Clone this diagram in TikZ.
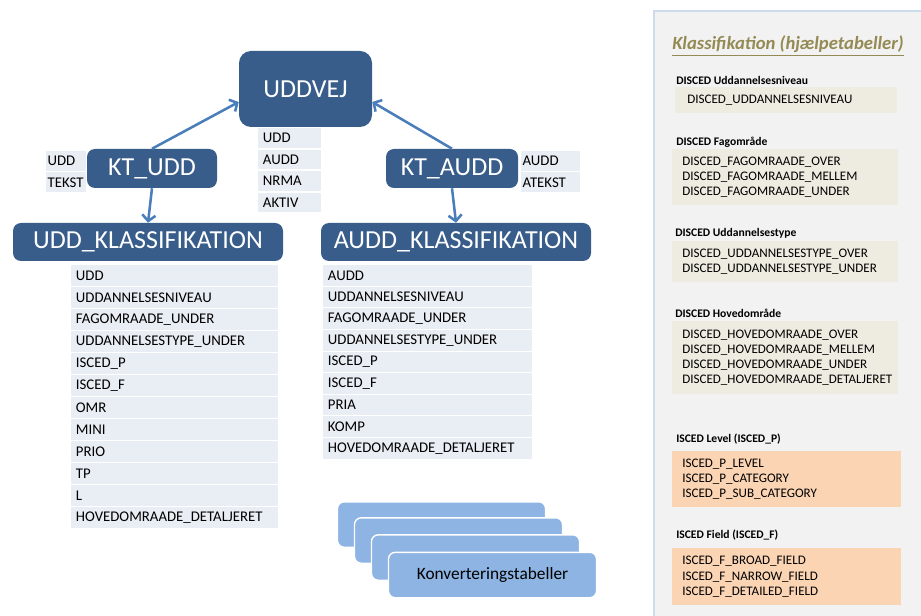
\documentclass[tikz,border=0pt]{standalone}
\usepackage{fontspec}
\setmainfont{Carlito}
\usetikzlibrary{arrows.meta}

\definecolor{tblblue}{RGB}{56,93,138}
\definecolor{cellgray}{RGB}{233,237,244}
\definecolor{arrowblue}{RGB}{74,126,187}
\definecolor{convblue}{RGB}{141,180,226}
\definecolor{panelgray}{RGB}{242,242,242}
\definecolor{panelline}{RGB}{205,219,238}
\definecolor{titleolive}{RGB}{148,138,84}
\definecolor{discedbeige}{RGB}{238,236,225}
\definecolor{iscedpeach}{RGB}{251,212,180}

\tikzset{
  tbl/.style={fill=tblblue, text=white, rounded corners=6pt, inner sep=0pt,
    font=\fontsize{19.5}{22}\selectfont},
  fld/.style={fill=cellgray, anchor=north west, inner xsep=3.5pt, inner ysep=0pt,
    text width=#1, align=left, minimum height=15.4pt, font=\fontsize{11.1}{13}\selectfont},
  rel/.style={draw=arrowblue, line width=1.9pt, -{Straight Barb[length=4.5pt,width=10pt]}},
  conv/.style={fill=convblue, draw=white, line width=1pt, rounded corners=5pt,
    minimum width=156pt, minimum height=34pt},
  grp/.style={anchor=west, inner sep=0pt, font=\bfseries\fontsize{8.7}{10}\selectfont},
  hlp/.style={anchor=north west, inner xsep=7.5pt, inner ysep=0pt, align=left,
    font=\fontsize{9.8}{11.4}\selectfont}
}

\begin{document}
\begin{tikzpicture}[x=0.75pt, y=-0.75pt]
  \useasboundingbox (0,0) rectangle (921,616);

  % tables
  \node[tbl, rounded corners=9pt, minimum width=99.75pt, minimum height=57pt] (uddvej) at (305.5,89) {UDDVEJ};
  \node[tbl, minimum width=97.5pt, minimum height=29.25pt] (ktudd) at (152,168.5) {KT\_UDD};
  \node[tbl, minimum width=99pt, minimum height=29.25pt] (ktaudd) at (452,168.5) {KT\_AUDD};
  \node[tbl, minimum width=202.5pt, minimum height=28.5pt] (uddklass) at (148,242) {UDD\_KLASSIFIKATION};
  \node[tbl, minimum width=202.5pt, minimum height=28.5pt] (auddklass) at (456,242) {AUDD\_KLASSIFIKATION};

  % fields
  \foreach \f [count=\i from 0] in {UDD,AUDD,NRMA,AKTIV}
    \node[fld=40.25pt, minimum height=14.6pt] (vej\i) at (258,128+21.5*\i) {\f};
  \foreach \f [count=\i from 0] in {UDD,TEKST}
    \node[fld=28pt, inner xsep=1pt, minimum height=15pt] (ktu\i) at (46,151+21*\i) {\f};
  \foreach \f [count=\i from 0] in {AUDD,ATEKST}
    \node[fld=42.25pt, inner xsep=1pt, minimum height=15pt] (kta\i) at (521,151+21*\i) {\f};
  \foreach \f [count=\i from 0] in {UDD,UDDANNELSESNIVEAU,FAGOMRAADE\_UNDER,UDDANNELSESTYPE\_UNDER,
      ISCED\_P,ISCED\_F,OMR,MINI,PRIO,TP,L,HOVEDOMRAADE\_DETALJERET}
    \node[fld=148.25pt] (uk\i) at (71,265+22*\i) {\f};
  \foreach \f [count=\i from 0] in {AUDD,UDDANNELSESNIVEAU,FAGOMRAADE\_UNDER,UDDANNELSESTYPE\_UNDER,
      ISCED\_P,ISCED\_F,PRIA,KOMP,HOVEDOMRAADE\_DETALJERET}
    \node[fld=149.75pt] (ak\i) at (323,265+21.6*\i) {\f};

  % relations
  \draw[rel] (ktudd.north) -- (uddvej.191);
  \draw[rel] (ktudd.south) -- (uddklass.north);
  \draw[rel] (ktaudd.north) -- (uddvej.349);
  \draw[rel] (ktaudd.south) -- (auddklass.north);

  % conversion tables
  \foreach \k/\cx/\cy in {1/441.5/524.5, 2/458.5/540.5, 3/475.5/557.5}
    \node[conv] (conv\k) at (\cx,\cy) {};
  \node[conv, font=\fontsize{13}{15}\selectfont] (conv4) at (492.5,575) {Konverteringstabeller};

  % helper tables
  \fill[panelgray] (654,11) rectangle (925,620);
  \draw[panelline, line width=1.8pt] (654,620) -- (654,11) -- (925,11);
  \node[anchor=west, inner sep=0pt, text=titleolive, font=\bfseries\itshape\fontsize{14}{16}\selectfont]
    (title) at (672,46) {\underline{Klassifikation (hjælpetabeller)}};

  \node[grp] (h1) at (676,80) {DISCED Uddannelsesniveau};
  \node[hlp, fill=discedbeige, inner xsep=9pt, text width=148.5pt, minimum height=19.5pt] (b1) at (675,87)
    {DISCED\_UDDANNELSESNIVEAU};
  \node[grp] (h2) at (676,142) {DISCED Fagområde};
  \node[hlp, fill=discedbeige, text width=154.5pt, minimum height=42pt] (b2) at (672,149)
    {DISCED\_FAGOMRAADE\_OVER\\DISCED\_FAGOMRAADE\_MELLEM\\DISCED\_FAGOMRAADE\_UNDER};
  \node[grp] (h3) at (675,233) {DISCED Uddannelsestype};
  \node[hlp, fill=discedbeige, text width=154.5pt, minimum height=30.75pt] (b3) at (672,241)
    {DISCED\_UDDANNELSESTYPE\_OVER\\DISCED\_UDDANNELSESTYPE\_UNDER};
  \node[grp] (h4) at (675,313) {DISCED Hovedområde};
  \node[hlp, fill=discedbeige, text width=154.5pt, minimum height=54.75pt] (b4) at (672,321)
    {DISCED\_HOVEDOMRAADE\_OVER\\DISCED\_HOVEDOMRAADE\_MELLEM\\DISCED\_HOVEDOMRAADE\_UNDER\\DISCED\_HOVEDOMRAADE\_DETALJERET};
  \node[grp] (h5) at (676,439) {ISCED Level (ISCED\_P)};
  \node[hlp, fill=iscedpeach, text width=156.75pt, minimum height=42pt] (b5) at (672,451)
    {ISCED\_P\_LEVEL\\ISCED\_P\_CATEGORY\\ISCED\_P\_SUB\_CATEGORY};
  \node[grp] (h6) at (676,535) {ISCED Field (ISCED\_F)};
  \node[hlp, fill=iscedpeach, text width=156.75pt, minimum height=42.75pt] (b6) at (672,548)
    {ISCED\_F\_BROAD\_FIELD\\ISCED\_F\_NARROW\_FIELD\\ISCED\_F\_DETAILED\_FIELD};
\end{tikzpicture}
\end{document}
